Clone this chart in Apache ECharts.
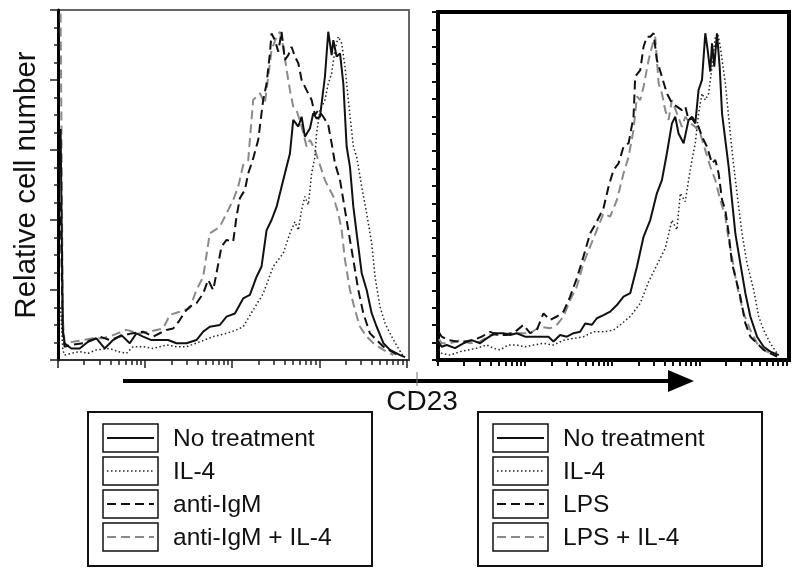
<!DOCTYPE html>
<html><head><meta charset="utf-8">
<script src="https://cdn.jsdelivr.net/npm/echarts@6/dist/echarts.min.js"></script>
<style>html,body{margin:0;padding:0;background:#fff}#c{width:800px;height:580px}</style>
</head><body><div id="c"></div><script>
// x = log10 decade of CD23 fluorescence, y = relative cell number (% of panel height)
const majorDecades = [0, 1, 2, 3, 4];
const minorMultipliers = [2, 3, 4, 5, 6, 7, 8, 9];
const yTitle = 'Relative cell number';
const xTitle = 'CD23';
const legendLeft = ['No treatment', 'IL-4', 'anti-IgM', 'anti-IgM + IL-4'];
const legendRight = ['No treatment', 'IL-4', 'LPS', 'LPS + IL-4'];

const leftNoTreat = [[0.03,66],[0.055,9],[0.075,4.8],[0.153,3.3],[0.249,3.3],[0.345,5.2],[0.441,6.2],[0.536,3.3],[0.632,5.7],[0.728,7.1],[0.824,4.8],[0.9,7.6],[0.977,6.7],[1.073,5.7],[1.169,5.7],[1.264,5.7],[1.36,4.8],[1.475,4.8],[1.59,5.7],[1.667,8.1],[1.743,9.5],[1.858,10],[1.935,12.4],[2.031,13.3],[2.126,17.6],[2.203,18.6],[2.28,23.8],[2.337,26.7],[2.395,37.1],[2.452,40],[2.51,43.8],[2.567,49.5],[2.605,53.3],[2.663,59],[2.701,68.6],[2.759,66.7],[2.797,69.5],[2.835,63.8],[2.893,66.2],[2.931,70.5],[2.969,69],[3.008,69.5],[3.065,81],[3.103,93.8],[3.142,87.1],[3.161,91.4],[3.199,86.7],[3.238,87.6],[3.276,79],[3.314,61],[3.352,55.2],[3.391,43.8],[3.429,36.2],[3.487,24.8],[3.544,20],[3.602,13.3],[3.659,9.5],[3.736,4.8],[3.812,2.9],[3.927,1.4],[3.985,0.8]];
const leftIL4 = [[0.03,15],[0.055,3],[0.075,1.4],[0.153,1.9],[0.249,2.4],[0.345,1.9],[0.441,2.9],[0.594,3.3],[0.69,2.4],[0.785,1.9],[0.862,3.8],[0.977,3.8],[1.092,3.3],[1.245,4.3],[1.36,3.8],[1.475,3.8],[1.628,5.2],[1.782,6.7],[1.935,7.6],[2.05,8.6],[2.126,9.5],[2.241,14.3],[2.356,19],[2.471,26.7],[2.586,30.5],[2.663,36.2],[2.72,39.5],[2.759,37.1],[2.797,42.9],[2.835,46.7],[2.874,44.3],[2.912,53.3],[2.95,58.1],[2.969,64.8],[3.008,71.4],[3.065,74.3],[3.103,79],[3.142,81.9],[3.18,88.6],[3.218,92.4],[3.257,90.5],[3.295,83.8],[3.333,74.3],[3.391,61],[3.429,58.1],[3.487,49.5],[3.544,41.9],[3.602,33.3],[3.64,23.8],[3.697,15.2],[3.755,10.5],[3.831,6.7],[3.908,3.3],[3.966,1]];
const leftAntiIgM = [[0.03,45],[0.055,8],[0.075,3.8],[0.153,4.3],[0.287,4.8],[0.383,5.7],[0.479,6.7],[0.594,5.7],[0.709,6.7],[0.843,7.6],[0.977,8.1],[1.092,6.7],[1.245,8.6],[1.322,9],[1.398,11.4],[1.456,13.8],[1.513,15.2],[1.59,16.2],[1.667,19],[1.724,22.9],[1.782,20],[1.82,24.8],[1.877,32.4],[1.935,34.3],[2.011,33.8],[2.05,41],[2.088,46.2],[2.146,48.6],[2.184,53.3],[2.241,57.6],[2.299,62.9],[2.356,74.3],[2.395,79],[2.433,87.6],[2.452,93.3],[2.49,91.4],[2.529,88.1],[2.567,93.8],[2.605,85.7],[2.644,87.1],[2.682,89.5],[2.72,86.7],[2.759,84.8],[2.797,80],[2.854,77.1],[2.912,74.3],[2.95,70],[2.989,71.4],[3.046,69.5],[3.103,67.1],[3.142,61.9],[3.18,56.2],[3.238,51.4],[3.276,45.7],[3.314,40],[3.352,34.3],[3.391,28.6],[3.448,20],[3.506,13.3],[3.582,7.6],[3.659,5.7],[3.736,3.8],[3.831,2.4],[3.927,1]];
const leftAntiIgMIL4 = [[0.03,99],[0.055,12],[0.075,4.8],[0.172,5.2],[0.287,5.7],[0.402,6.2],[0.517,6.2],[0.632,7.1],[0.785,8.6],[0.939,7.6],[1.054,8.1],[1.207,9],[1.284,12.9],[1.398,13.8],[1.513,14.8],[1.59,20],[1.667,23.8],[1.743,36.2],[1.801,37.1],[1.858,38.1],[1.935,41.9],[2.011,45.7],[2.069,49.5],[2.126,55.7],[2.184,57.1],[2.241,74.3],[2.318,76.2],[2.375,73.3],[2.414,81],[2.452,88.6],[2.51,92.4],[2.548,93.8],[2.586,89.5],[2.625,82.9],[2.663,77.1],[2.701,72.4],[2.739,71.4],[2.797,66.7],[2.854,61],[2.893,62.9],[2.95,60],[2.989,57.1],[3.027,54.3],[3.065,51.4],[3.103,49.5],[3.161,46.7],[3.218,41.9],[3.257,37.1],[3.295,28.6],[3.352,20],[3.41,14.3],[3.467,9.5],[3.544,6.7],[3.621,4.8],[3.736,2.9],[3.851,1.4]];

const rightNoTreat = [[0.01,5],[0.042,3.8],[0.1,4.3],[0.195,3.4],[0.291,4.8],[0.387,5.7],[0.483,4.8],[0.559,6.2],[0.655,7.7],[0.751,7.7],[0.828,7.2],[0.904,7.7],[1,6.7],[1.096,6.7],[1.192,6.7],[1.268,6.7],[1.326,5.3],[1.402,7.2],[1.479,6.7],[1.556,7.7],[1.632,8.1],[1.69,10.5],[1.766,10.1],[1.824,12],[1.9,12.9],[1.977,13.9],[2.054,15.8],[2.13,18.2],[2.207,19.2],[2.284,26.8],[2.36,35.4],[2.437,40.2],[2.513,47.9],[2.571,51.7],[2.628,59.4],[2.686,68],[2.724,69.9],[2.762,65.1],[2.82,62.3],[2.877,69],[2.916,69.4],[2.954,68],[2.992,77.6],[3.031,80.5],[3.069,93.9],[3.096,89.1],[3.126,82.9],[3.146,91],[3.172,84.3],[3.203,93.9],[3.234,84.3],[3.261,70.9],[3.299,63.2],[3.337,55.6],[3.375,46],[3.414,36.4],[3.471,27.8],[3.529,19.2],[3.586,12.5],[3.663,6.7],[3.739,3.8],[3.816,2.4],[3.912,1.4]];
const rightIL4 = [[0.01,3],[0.042,1.9],[0.138,1.4],[0.253,2.4],[0.349,2.9],[0.444,3.4],[0.559,4.3],[0.636,3.4],[0.713,2.9],[0.808,4.3],[0.904,4.3],[1,3.8],[1.096,4.3],[1.211,4.8],[1.326,4.3],[1.441,5.7],[1.556,6.2],[1.67,6.7],[1.785,8.1],[1.9,8.1],[2.015,8.6],[2.092,10.1],[2.207,12.5],[2.322,16.3],[2.418,22.5],[2.513,27.3],[2.609,32.1],[2.686,40.2],[2.743,37.4],[2.782,47.9],[2.839,45.5],[2.877,51.7],[2.916,57.5],[2.954,62.3],[2.992,70.9],[3.031,76.6],[3.069,74.7],[3.107,76.6],[3.146,84.3],[3.184,92.9],[3.211,93.9],[3.241,90],[3.299,79.5],[3.337,69.9],[3.375,60.3],[3.433,47.9],[3.49,36.4],[3.548,27.8],[3.625,20.1],[3.682,12.5],[3.739,8.6],[3.816,4.8],[3.893,1.9]];
const rightLPS = [[0.01,8],[0.042,6.7],[0.119,5.7],[0.215,5.3],[0.31,5.3],[0.406,5.7],[0.502,6.7],[0.598,8.1],[0.693,7.2],[0.789,7.2],[0.885,8.1],[0.981,10.1],[1.057,7.7],[1.134,8.6],[1.211,13.4],[1.287,11.5],[1.364,12.5],[1.441,13.9],[1.517,18.2],[1.594,23.5],[1.67,29.7],[1.747,36.4],[1.824,39.8],[1.9,43.6],[1.958,49.8],[2.015,54.6],[2.073,56.5],[2.13,61.3],[2.188,62.3],[2.245,69.9],[2.264,81.4],[2.322,83.3],[2.36,90],[2.398,92.9],[2.437,92.9],[2.475,93.9],[2.513,86.2],[2.571,81.4],[2.628,76.6],[2.686,73.8],[2.743,72.8],[2.801,71.8],[2.839,72.8],[2.877,69],[2.916,69.9],[2.954,68.5],[2.992,67],[3.031,64.2],[3.088,61.3],[3.146,56.5],[3.184,57.5],[3.222,53.6],[3.261,46],[3.299,43.1],[3.337,36.4],[3.375,27.8],[3.414,23.9],[3.471,18.2],[3.529,10.5],[3.586,6.7],[3.663,4.8],[3.739,2.9],[3.816,1.9],[3.893,1]];
const rightLPSIL4 = [[0.01,6],[0.042,4.8],[0.138,4.8],[0.253,5.7],[0.368,4.8],[0.483,5.3],[0.598,7.2],[0.713,7.2],[0.828,7.7],[0.943,7.7],[1.057,7.7],[1.172,9.6],[1.287,9.1],[1.364,10.1],[1.441,12.5],[1.517,17.2],[1.594,21.1],[1.67,27.8],[1.747,32.6],[1.824,37.4],[1.9,42.1],[1.977,41.2],[2.054,46],[2.13,53.6],[2.188,58.4],[2.245,66.1],[2.284,75.7],[2.322,74.7],[2.36,78.5],[2.418,86.2],[2.456,90],[2.494,92.9],[2.533,79.5],[2.571,76.6],[2.609,71.8],[2.647,69],[2.686,74.7],[2.743,70.9],[2.801,67],[2.839,69.9],[2.897,68],[2.954,67],[3.011,65.1],[3.069,60.3],[3.126,55.6],[3.184,51.7],[3.241,46],[3.299,41.2],[3.337,34.5],[3.375,29.7],[3.414,23.9],[3.452,19.2],[3.51,13.4],[3.586,8.6],[3.663,4.8],[3.739,2.9],[3.816,1.9]];

const FONT = '"Liberation Sans", Arial, Helvetica, sans-serif';
const minorTicks = [];
for (let d = 0; d < 4; d++) for (const m of minorMultipliers) minorTicks.push(d + Math.log10(m));

const styles = [
  {color: '#111', width: 2, type: 'solid'},
  {color: '#222', width: 1.5, type: [1.5, 2.5]},
  {color: '#111', width: 2, type: [9, 5]},
  {color: '#8a8a8a', width: 2, type: [9, 5]}
];

function mkSeries(name, data, xi, yi, st) {
  return {type: 'line', name: name, data: data, xAxisIndex: xi, yAxisIndex: yi,
    symbol: 'none', showSymbol: false, animation: false,
    lineStyle: {color: st.color, width: st.width, type: st.type}};
}
const leftData = [leftNoTreat, leftIL4, leftAntiIgM, leftAntiIgMIL4];
const rightData = [rightNoTreat, rightIL4, rightLPS, rightLPSIL4];
const series = [];
[3, 2, 1, 0].forEach(i => series.push(mkSeries(legendLeft[i], leftData[i], 0, 0, styles[i])));
[3, 2, 1, 0].forEach(i => series.push(mkSeries(legendRight[i], rightData[i], 2, 1, styles[i])));

function xAx(grid, ticks, len, showLine, lineW, color) {
  return {type: 'value', gridIndex: grid, min: 0, max: 4.03, position: 'bottom',
    axisLine: {show: showLine, onZero: false, lineStyle: {color: color, width: lineW}},
    axisTick: {show: true, customValues: ticks, length: len, lineStyle: {color: color, width: lineW}},
    axisLabel: {show: false}, splitLine: {show: false}};
}

function legendGraphics(x0, labels) {
  const g = [];
  g.push({type: 'rect', shape: {x: x0, y: 412, width: 284, height: 154}, style: {fill: 'none', stroke: '#111', lineWidth: 2}});
  labels.forEach((lab, i) => {
    const y = 424 + i * 33;
    g.push({type: 'rect', shape: {x: x0 + 15, y: y, width: 55, height: 28}, style: {fill: 'none', stroke: '#111', lineWidth: 1.5}});
    const st = styles[i];
    g.push({type: 'line', shape: {x1: x0 + 19, y1: y + 14, x2: x0 + 66, y2: y + 14},
      style: {stroke: st.color, lineWidth: st.width, lineDash: Array.isArray(st.type) ? st.type : null}});
    g.push({type: 'text', x: x0 + 85, y: y + 15, style: {text: lab, font: '24.5px ' + FONT, fill: '#111', verticalAlign: 'middle'}});
  });
  return g;
}

const graphics = [
  {type: 'line', shape: {x1: 123, y1: 381, x2: 674, y2: 381}, style: {stroke: '#000', lineWidth: 4}},
  {type: 'polygon', shape: {points: [[668, 370], [694, 381], [668, 392]]}, style: {fill: '#000'}},
  {type: 'line', shape: {x1: 417, y1: 372, x2: 417, y2: 386}, style: {stroke: '#777', lineWidth: 1}},
  {type: 'text', x: 422, y: 402, style: {text: xTitle, font: '28px ' + FONT, fill: '#111', align: 'center', verticalAlign: 'middle'}}
].concat(legendGraphics(88, legendLeft), legendGraphics(478, legendRight));

const chart = echarts.init(document.getElementById('c'), null, {renderer: 'canvas'});
chart.setOption({
  backgroundColor: '#fff',
  animation: false,
  grid: [
    {left: 58, top: 10, width: 351, height: 350, show: true, borderColor: '#666', borderWidth: 2, backgroundColor: 'transparent'},
    {left: 438, top: 12, width: 351, height: 348, show: true, borderColor: '#000', borderWidth: 4, backgroundColor: 'transparent'}
  ],
  xAxis: [
    xAx(0, majorDecades, 8, true, 1.5, '#222'),
    xAx(0, minorTicks, 5, false, 1.5, '#222'),
    xAx(1, majorDecades, 6, false, 2, '#111'),
    xAx(1, minorTicks, 6, false, 2, '#111')
  ],
  yAxis: [
    {type: 'value', gridIndex: 0, min: 0, max: 100, interval: 20,
      name: yTitle, nameLocation: 'middle', nameGap: 16, nameRotate: 90,
      nameTextStyle: {fontSize: 29.5, fontFamily: FONT, color: '#111'},
      axisLine: {show: true, lineStyle: {color: '#000', width: 3}},
      axisTick: {show: true, length: 8, lineStyle: {color: '#222', width: 1.5}},
      minorTick: {show: true, splitNumber: 4, length: 4, lineStyle: {color: '#222', width: 1.5}},
      axisLabel: {show: false}, splitLine: {show: false}, minorSplitLine: {show: false}},
    {type: 'value', gridIndex: 1, min: 0, max: 100, interval: 5,
      axisLine: {show: false},
      axisTick: {show: true, length: 6, lineStyle: {color: '#111', width: 2}},
      axisLabel: {show: false}, splitLine: {show: false}}
  ],
  series: series,
  graphic: graphics
});
</script></body></html>
